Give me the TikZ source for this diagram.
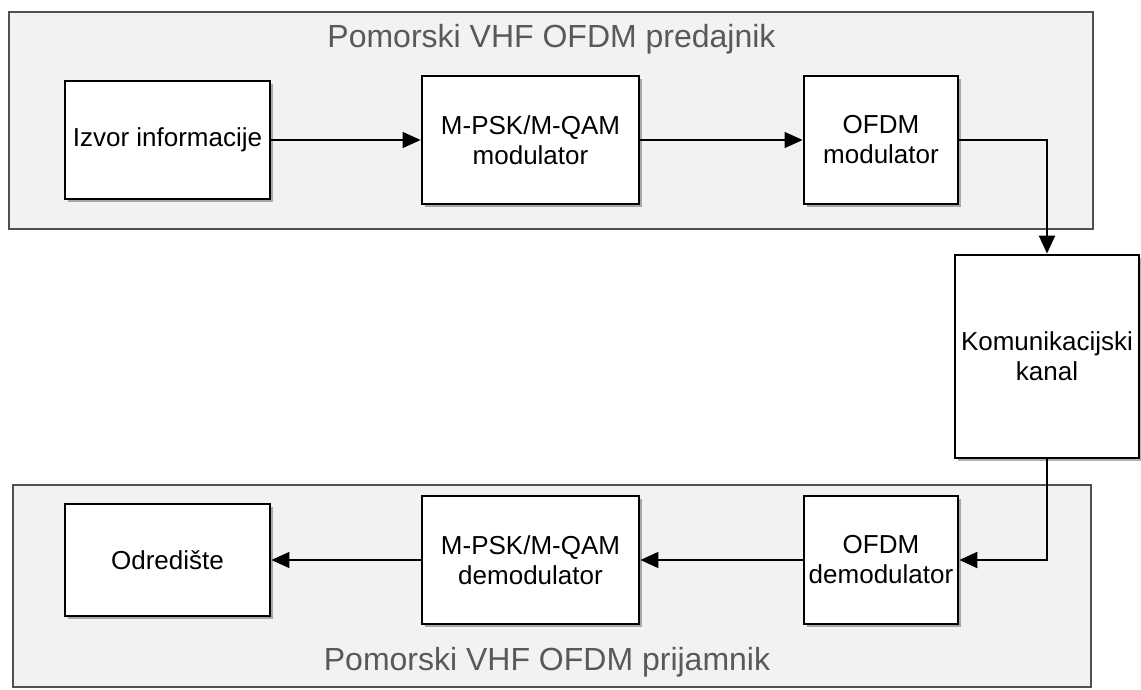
\documentclass[tikz,border=0pt]{standalone}
\usepackage{fontspec}
\setmainfont{Liberation Sans}
\usetikzlibrary{arrows.meta,shadows,positioning}
\definecolor{contfill}{HTML}{F2F2F2}
\definecolor{contdraw}{HTML}{505050}
\definecolor{titlegray}{HTML}{595959}
\tikzset{
  container/.style={draw=contdraw, fill=contfill, line width=2.2pt, inner sep=0pt},
  ctitle/.style={text=titlegray, font=\fontsize{32}{36}\selectfont, inner sep=0pt},
  block/.style={draw=black, fill=white, line width=2.8pt, inner sep=0pt, align=center,
    font=\fontsize{26}{30}\selectfont,
    drop shadow={shadow xshift=3pt, shadow yshift=-3pt, fill=black, opacity=0.3}},
  flow/.style={line width=1.5pt, -{Triangle[length=18pt,width=16pt]}},
  flowthick/.style={line width=2.2pt, -{Triangle[length=18pt,width=16pt]}}
}
\begin{document}
\begin{tikzpicture}[x=1pt,y=-1pt]
\useasboundingbox (0,0) rectangle (1141,690);
% containers
\node[container, minimum width=1084pt, minimum height=217pt] (tx) at (551,120.5) {};
\node[ctitle] (txtitle) at (551.5,39) {Pomorski VHF OFDM predajnik};
\node[container, minimum width=1078pt, minimum height=202pt] (rx) at (552,586) {};
\node[ctitle] (rxtitle) at (547,662) {Pomorski VHF OFDM prijamnik};
% transmitter blocks
\node[block, minimum width=205pt, minimum height=118pt] (izvor) at (167.5,140) {Izvor informacije};
\node[block, minimum width=217pt, minimum height=128pt] (mpsk) at (530.5,140) {M-PSK/M-QAM\\modulator};
\node[block, minimum width=154pt, minimum height=128pt] (ofdm) at (881,140) {OFDM\\modulator};
% channel
\node[block, minimum width=184pt, minimum height=203pt] (kanal) at (1047,356.5) {Komunikacijski\\kanal};
% receiver blocks
\node[block, minimum width=154pt, minimum height=128pt] (ofdmd) at (881,560) {OFDM\\demodulator};
\node[block, minimum width=217pt, minimum height=128pt] (mpskd) at (530.5,560) {M-PSK/M-QAM\\demodulator};
\node[block, minimum width=205pt, minimum height=112pt] (odr) at (167.5,560) {Odredište};
% connectors
\draw[flow] (izvor) -- (mpsk);
\draw[flow] (mpsk) -- (ofdm);
\draw[flowthick] (ofdm.east) -| (kanal.north);
\draw[flowthick] (kanal.south) |- (ofdmd.east);
\draw[flow] (ofdmd) -- (mpskd);
\draw[flow] (mpskd) -- (odr);
\end{tikzpicture}
\end{document}
